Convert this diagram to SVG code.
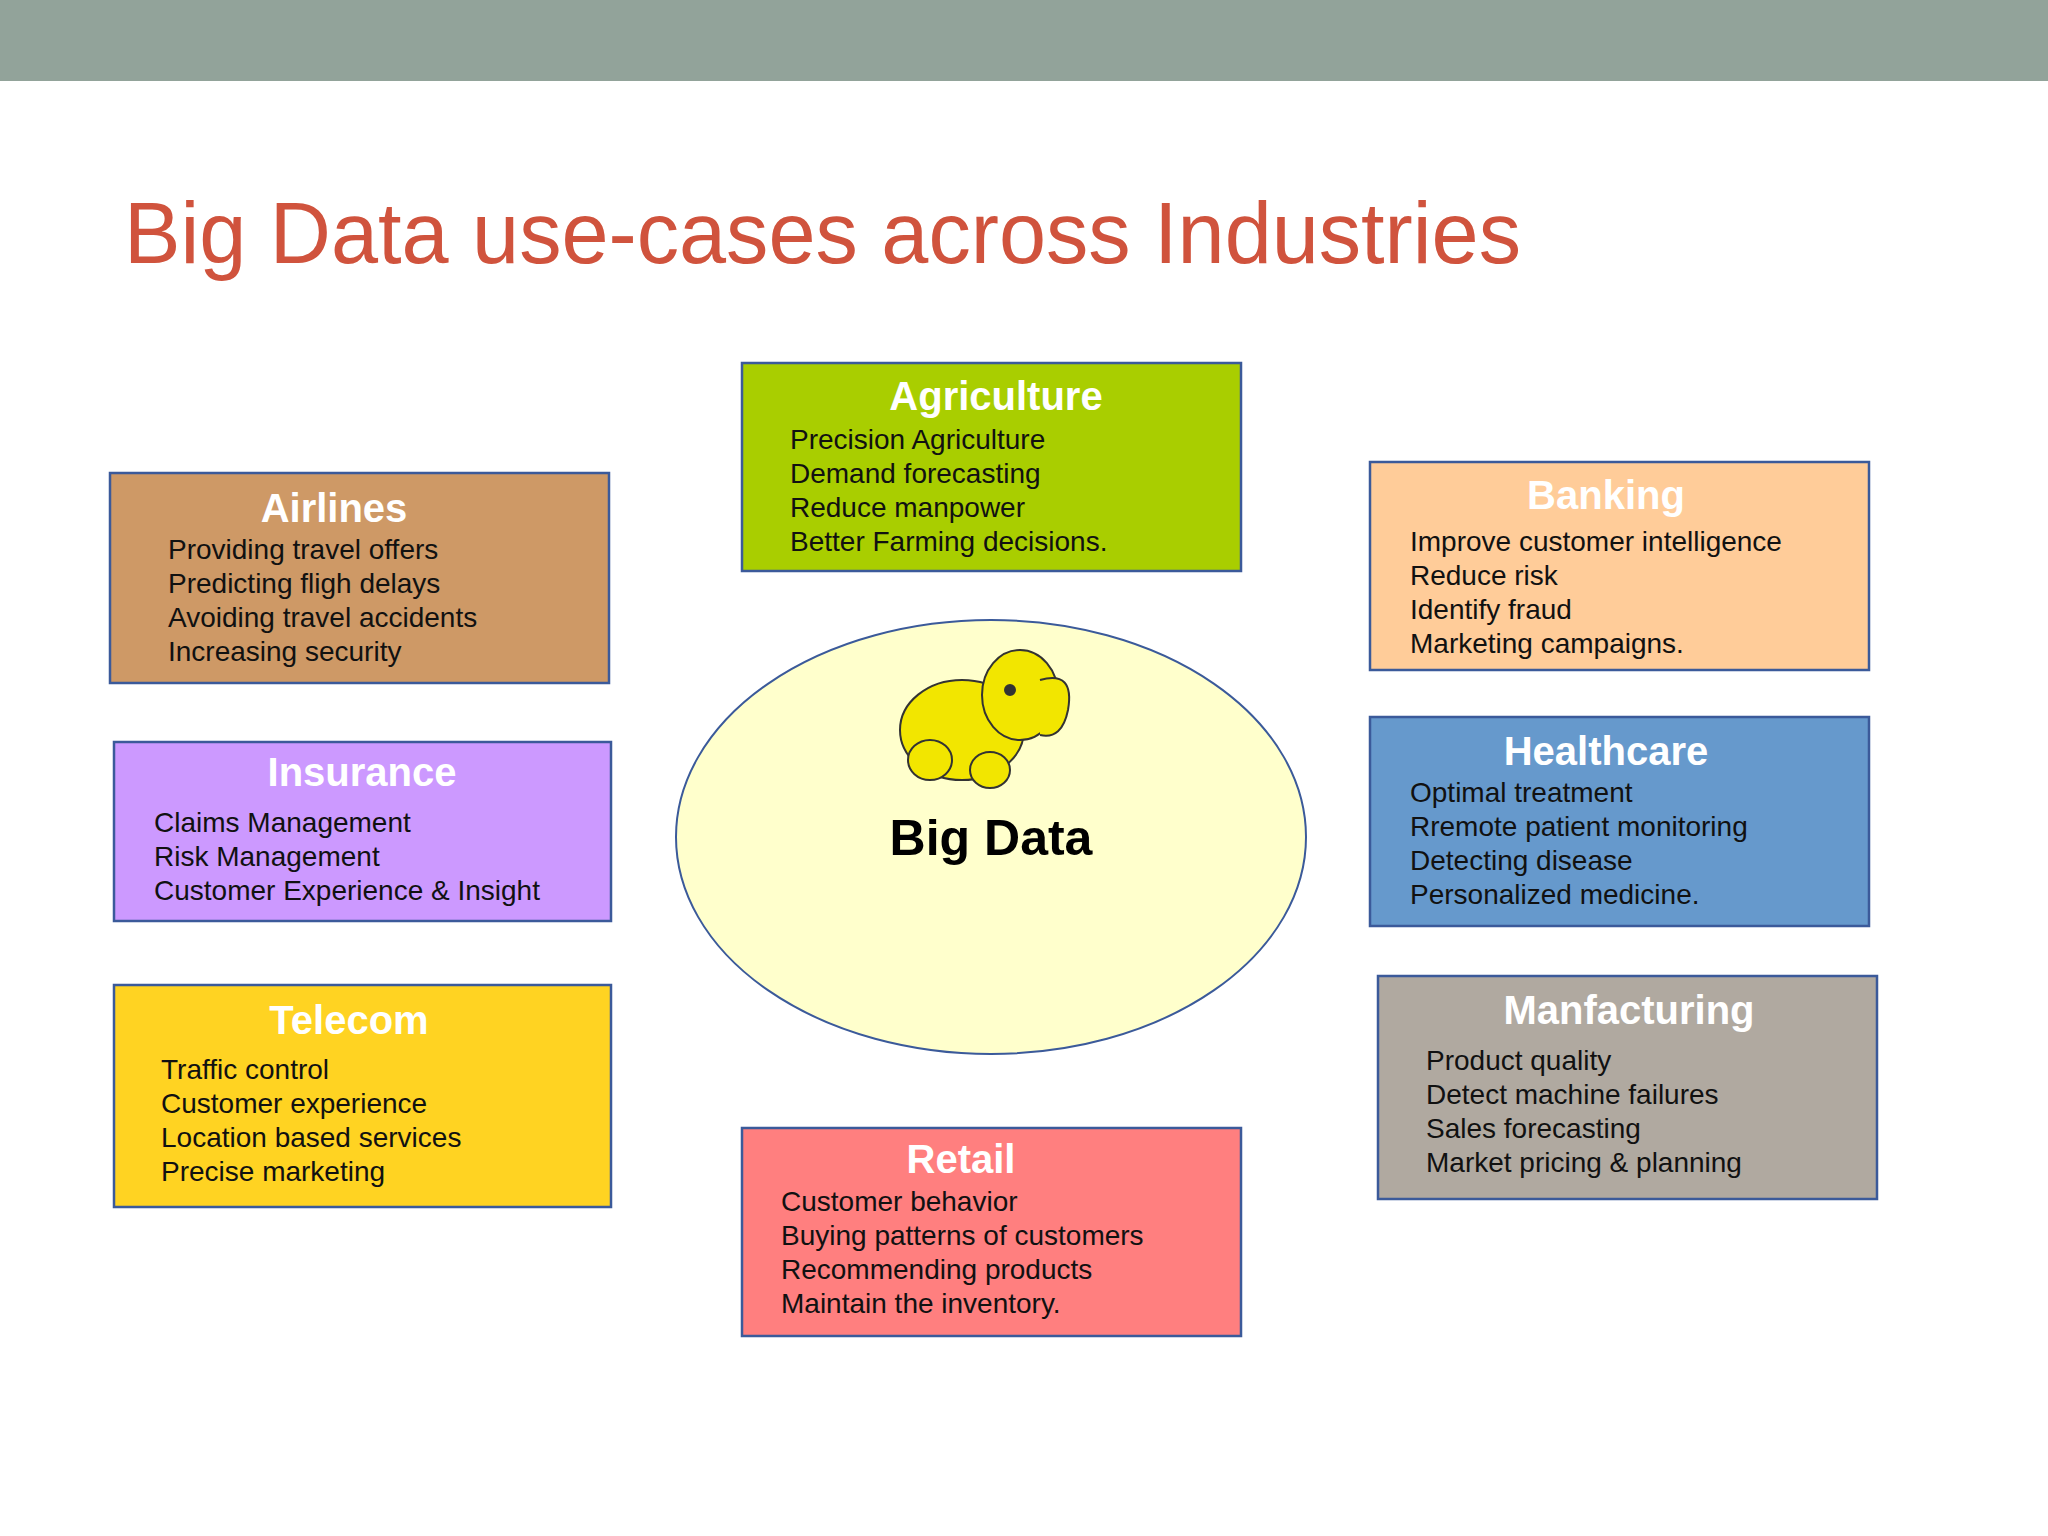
<svg xmlns="http://www.w3.org/2000/svg" width="2048" height="1536" viewBox="0 0 2048 1536">
<style>
.box{stroke:#3B5A9A;stroke-width:2.5}
.h{font-family:"Liberation Sans",Arial,sans-serif;font-weight:bold;font-size:40px;fill:#fff;text-anchor:middle}
.t{font-family:"Liberation Sans",Arial,sans-serif;font-size:28px;fill:#111}
</style>
<rect x="0" y="0" width="2048" height="1536" fill="#fff"/>
<rect x="0" y="0" width="2048" height="81" fill="#92A39A"/>
<text x="124" y="263" font-family="Liberation Sans,Arial,sans-serif" font-size="88" fill="#D0533D" textLength="1397" lengthAdjust="spacingAndGlyphs">Big Data use-cases across Industries</text>
<g id="center">
<ellipse cx="991" cy="837" rx="315" ry="217" fill="#FFFFCC" stroke="#3B5A9A" stroke-width="2"/>
<g id="elephant" stroke="#333" stroke-width="2" fill="#F2E600">
<ellipse cx="962" cy="730" rx="62" ry="50"/>
<ellipse cx="1020" cy="695" rx="38" ry="45"/>
<path d="M1040 680 Q1075 670 1068 710 Q1062 740 1040 735" />
<ellipse cx="930" cy="760" rx="22" ry="20"/>
<ellipse cx="990" cy="770" rx="20" ry="18"/>
<circle cx="1010" cy="690" r="5" fill="#333"/>
</g>
<text x="991" y="855" font-family="Liberation Sans,Arial,sans-serif" font-weight="bold" font-size="50" text-anchor="middle" fill="#000">Big Data</text>
</g>
<g id="agriculture">
<rect class="box" x="742" y="363" width="499" height="208" fill="#A9CE00"/>
<text class="h" x="996" y="410">Agriculture</text>
<text class="t" x="790" y="449">Precision Agriculture</text>
<text class="t" x="790" y="483">Demand forecasting</text>
<text class="t" x="790" y="517">Reduce manpower</text>
<text class="t" x="790" y="551">Better Farming decisions.</text>
</g>
<g id="airlines">
<rect class="box" x="110" y="473" width="499" height="210" fill="#CE9966"/>
<text class="h" x="334" y="522">Airlines</text>
<text class="t" x="168" y="559">Providing travel offers</text>
<text class="t" x="168" y="593">Predicting fligh delays</text>
<text class="t" x="168" y="627">Avoiding travel accidents</text>
<text class="t" x="168" y="661">Increasing security</text>
</g>
<g id="banking">
<rect class="box" x="1370" y="462" width="499" height="208" fill="#FFCC99"/>
<text class="h" x="1606" y="509">Banking</text>
<text class="t" x="1410" y="551">Improve customer intelligence</text>
<text class="t" x="1410" y="585">Reduce risk</text>
<text class="t" x="1410" y="619">Identify fraud</text>
<text class="t" x="1410" y="653">Marketing campaigns.</text>
</g>
<g id="insurance">
<rect class="box" x="114" y="742" width="497" height="179" fill="#CC99FF"/>
<text class="h" x="362" y="786">Insurance</text>
<text class="t" x="154" y="832">Claims Management</text>
<text class="t" x="154" y="866">Risk Management</text>
<text class="t" x="154" y="900">Customer Experience &amp; Insight</text>
</g>
<g id="healthcare">
<rect class="box" x="1370" y="717" width="499" height="209" fill="#6699CC"/>
<text class="h" x="1606" y="765">Healthcare</text>
<text class="t" x="1410" y="802">Optimal treatment</text>
<text class="t" x="1410" y="836">Rremote patient monitoring</text>
<text class="t" x="1410" y="870">Detecting disease</text>
<text class="t" x="1410" y="904">Personalized medicine.</text>
</g>
<g id="telecom">
<rect class="box" x="114" y="985" width="497" height="222" fill="#FFD322"/>
<text class="h" x="349" y="1034">Telecom</text>
<text class="t" x="161" y="1079">Traffic control</text>
<text class="t" x="161" y="1113">Customer experience</text>
<text class="t" x="161" y="1147">Location based services</text>
<text class="t" x="161" y="1181">Precise marketing</text>
</g>
<g id="manufacturing">
<rect class="box" x="1378" y="976" width="499" height="223" fill="#B0A9A0"/>
<text class="h" x="1629" y="1024">Manfacturing</text>
<text class="t" x="1426" y="1070">Product quality</text>
<text class="t" x="1426" y="1104">Detect machine failures</text>
<text class="t" x="1426" y="1138">Sales forecasting</text>
<text class="t" x="1426" y="1172">Market pricing &amp; planning</text>
</g>
<g id="retail">
<rect class="box" x="742" y="1128" width="499" height="208" fill="#FF7F7F"/>
<text class="h" x="961" y="1173">Retail</text>
<text class="t" x="781" y="1211">Customer behavior</text>
<text class="t" x="781" y="1245">Buying patterns of customers</text>
<text class="t" x="781" y="1279">Recommending products</text>
<text class="t" x="781" y="1313">Maintain the inventory.</text>
</g>
<g id="connectors"></g>
</svg>
